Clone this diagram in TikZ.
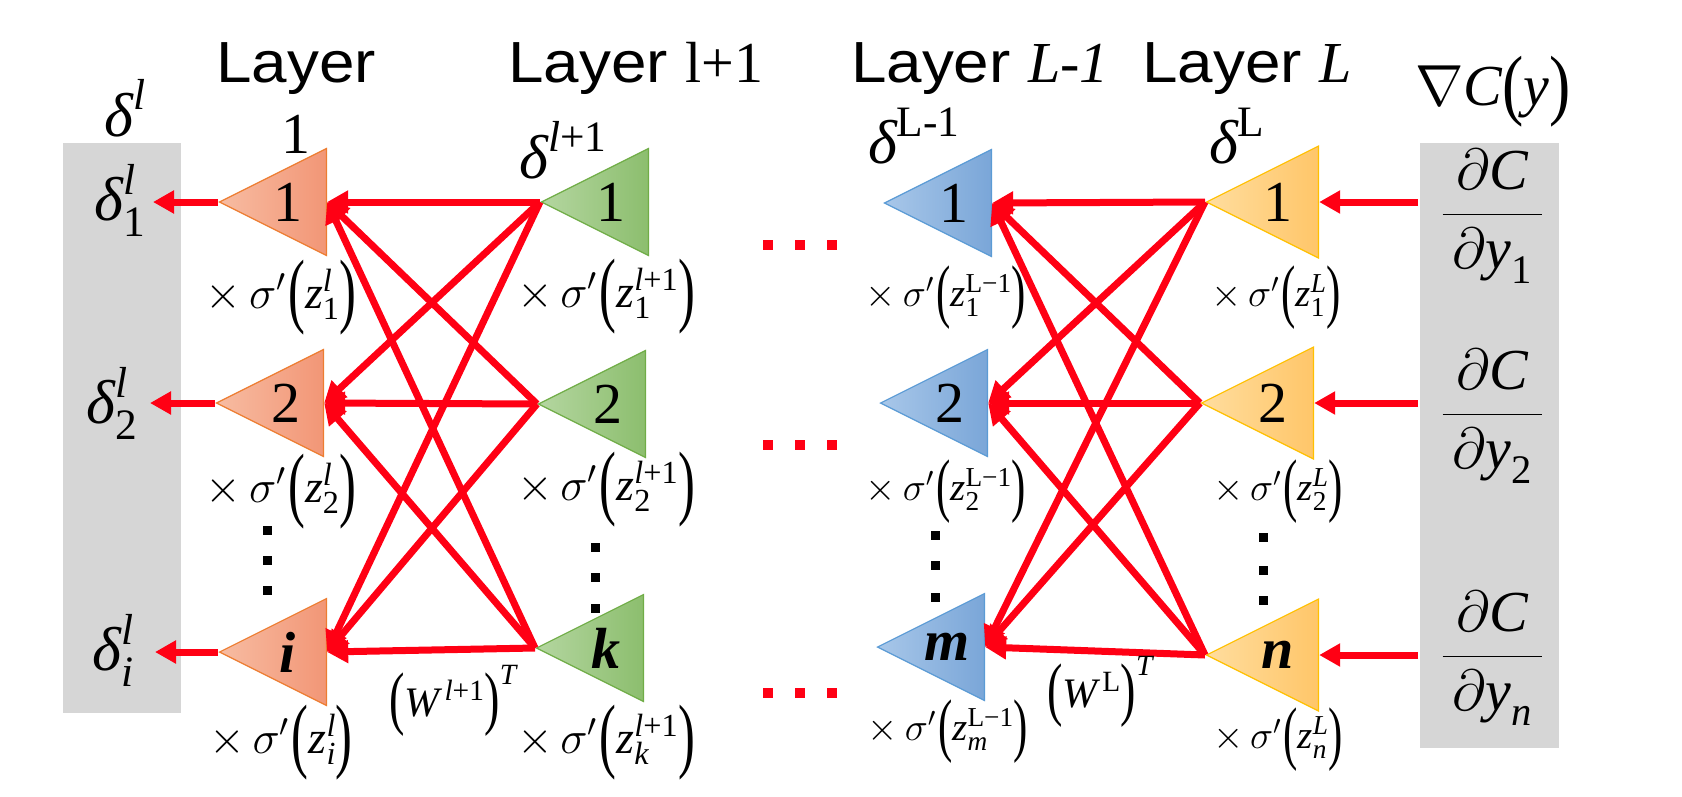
\documentclass[tikz,border=0pt]{standalone}
\usepackage{fix-cm}
\usepackage{amsmath}
\usepackage{graphicx}
\usepackage{fontspec}
\setmainfont{Liberation Serif}
\setsansfont{Liberation Sans}
\newfontfamily\hdrfont{Liberation Sans}[FakeStretch=1.1]
\usetikzlibrary{shapes.geometric,arrows.meta}
\definecolor{redO}{RGB}{255,0,20}
\definecolor{grayB}{RGB}{214,214,214}
\definecolor{oS}{RGB}{237,125,49}
\definecolor{oL}{RGB}{247,188,162}
\definecolor{oR}{RGB}{242,150,118}
\definecolor{gS}{RGB}{112,173,71}
\definecolor{gL}{RGB}{180,214,160}
\definecolor{gR}{RGB}{140,190,110}
\definecolor{bS}{RGB}{91,155,213}
\definecolor{bL}{RGB}{168,199,233}
\definecolor{bR}{RGB}{122,166,216}
\definecolor{yS}{RGB}{255,192,0}
\definecolor{yL}{RGB}{255,221,158}
\definecolor{yR}{RGB}{255,198,105}
\newcommand\ti[1]{\text{\itshape #1}}
\newcommand\tu[1]{\text{\upshape #1}}
\newcommand\fs[1]{\fontsize{#1}{#1}\selectfont}
\newcommand\LP[2]{\mathopen{\raisebox{#2}{\scalebox{1.1}[#1]{(}}}}
\newcommand\RP[2]{\mathclose{\raisebox{#2}{\scalebox{1.1}[#1]{)}}}}
\newcommand\xs[2]{$\times\mkern3mu\sigma'\mkern1mu\LP{1.8}{-0.215em}\ti{z}^{#1}_{#2}\RP{1.8}{-0.215em}$}
\begin{document}
\begin{tikzpicture}[x=1pt,y=-1pt,
  tri/.style={isosceles triangle, isosceles triangle stretches, shape border rotate=180,
    minimum width=107pt, minimum height=107pt, inner sep=0pt, anchor=apex, line width=1.2pt},
  otri/.style={tri, draw=oS, left color=oL, right color=oR},
  gtri/.style={tri, draw=gS, left color=gL, right color=gR},
  btri/.style={tri, draw=bS, left color=bL, right color=bR},
  ytri/.style={tri, draw=yS, left color=yL, right color=yR, minimum width=112pt, minimum height=112pt},
  conn/.style={draw=redO, line width=7pt, -{Triangle[length=21pt,width=22pt]}},
  numlab/.style={inner sep=0pt, font=\fs{58}},
  mlab/.style={inner sep=0pt, font=\fs{62}},
  slab/.style={inner sep=0pt, font=\fs{46}},
  sslab/.style={inner sep=0pt, font=\fs{39}},
  hdr/.style={inner sep=0pt, anchor=base, font=\hdrfont\fs{58}},
  bdot/.style={rectangle, fill=black, minimum size=9pt, inner sep=0pt},
  rdot/.style={rectangle, fill=redO, minimum size=10pt, inner sep=0pt},
]
\useasboundingbox (0,0) rectangle (1682,796);
% gray boxes
\fill[grayB] (63,143) rectangle (181,713);
\fill[grayB] (1420,143) rectangle (1559,748);
% triangles
\node[otri] (o1) at (218,202) {};
\node[otri] (o2) at (215,403) {};
\node[otri] (oi) at (218,652) {};
\node[gtri] (g1) at (540,202) {};
\node[gtri] (g2) at (537,404) {};
\node[gtri] (gk) at (535,648) {};
\node[btri] (b1) at (883,203) {};
\node[btri] (b2) at (879,403) {};
\node[btri] (bm) at (876,647) {};
\node[ytri] (y1) at (1205,202) {};
\node[ytri] (y2) at (1200,403) {};
\node[ytri] (yn) at (1205,655) {};
% connectors
\foreach \s in {g1,g2,gk}{\foreach \t in {o1,o2,oi}{\draw[conn] (\s.apex) -- (\t.lower side);}}
\foreach \s in {y1,y2,yn}{\foreach \t in {b1,b2,bm}{\draw[conn] (\s.apex) -- (\t.lower side);}}
\coordinate (d1) at (153,202);
\coordinate (d2) at (150,403);
\coordinate (di) at (155,652);
\draw[conn] (o1.apex) -- (d1);
\draw[conn] (o2.apex) -- (d2);
\draw[conn] (oi.apex) -- (di);
\coordinate (c1) at (1418,202);
\coordinate (c2) at (1418,403);
\coordinate (cn) at (1418,655);
\draw[conn] (c1) -- (y1.lower side);
\draw[conn] (c2) -- (y2.lower side);
\draw[conn] (cn) -- (yn.lower side);
% labels inside triangles
\node[numlab] (to1) at (288,202) {1};
\node[numlab] (to2) at (286,403) {2};
\node[numlab] (toi) at (288,652) {\bfseries\itshape i};
\node[numlab] (tg1) at (611,202) {1};
\node[numlab] (tg2) at (608,404) {2};
\node[numlab] (tgk) at (606,648) {\bfseries\itshape k};
\node[numlab] (tb1) at (954,203) {1};
\node[numlab] (tb2) at (950,403) {2};
\node[numlab] (tbm) at (947,647) {\bfseries\itshape m};
\node[numlab] (ty1) at (1278,202) {1};
\node[numlab] (ty2) at (1273,403) {2};
\node[numlab] (tyn) at (1278,655) {\bfseries\itshape n};
% headers
\node[hdr] (h1) at (296,82) {Layer};
\node[inner sep=0pt, anchor=base, font=\fs{58}] (h1b) at (296,153) {1};
\node[hdr] (h2) at (636,82) {Layer {\rmfamily l+1}};
\node[hdr] (h3) at (980,82) {Layer {\rmfamily\itshape L-1}};
\node[hdr] (h4) at (1247,82) {Layer {\rmfamily\itshape L}};
\node[inner sep=0pt, font=\fs{58}] (grad) at (1493,92) {$\nabla\ti{C}\LP{1.35}{-0.1em}\ti{y}\RP{1.35}{-0.1em}$};
% delta labels
\node[mlab] (dl) at (125,108) {$\ti{δ}^{\ti{l}}$};
\node[mlab] (dl1) at (120,200) {$\ti{δ}^{\ti{l}}_{\tu{1}}$};
\node[mlab] (dl2) at (112,403) {$\ti{δ}^{\ti{l}}_{\tu{2}}$};
\node[mlab] (dli) at (113,650) {$\ti{δ}^{\ti{l}}_{\ti{i}}$};
\node[mlab] (dlp) at (563,150) {$\ti{δ}^{\ti{l}\tu{+1}}$};
\node[mlab] (dLm) at (914,136) {$\ti{δ}^{\tu{L-1}}$};
\node[mlab] (dL) at (1237,136) {$\ti{δ}^{\tu{L}}$};
% sigma labels
\node[slab] (s11) at (281,298) {\xs{\ti{l}}{\tu{1}}};
\node[slab] (s12) at (281,492) {\xs{\ti{l}}{\tu{2}}};
\node[slab] (s1i) at (281,743) {\xs{\ti{l}}{\ti{i}}};
\node[slab] (s21) at (606,297) {\xs{\ti{l}\tu{+1}}{\tu{1}}};
\node[slab] (s22) at (606,490) {\xs{\ti{l}\tu{+1}}{\tu{2}}};
\node[slab] (s2k) at (606,743) {\xs{\ti{l}\tu{+1}}{\ti{k}}};
\node[sslab] (s31) at (946,298) {\xs{\tu{L−1}}{\tu{1}}};
\node[sslab] (s32) at (946,492) {\xs{\tu{L−1}}{\tu{2}}};
\node[sslab] (s3m) at (948,732) {\xs{\tu{L−1}}{\ti{m}}};
\node[sslab] (s41) at (1276,298) {\xs{\ti{L}}{\tu{1}}};
\node[sslab] (s42) at (1278,492) {\xs{\ti{L}}{\tu{2}}};
\node[sslab] (s4n) at (1278,740) {\xs{\ti{L}}{\ti{n}}};
% weight labels
\node[inner sep=0pt, font=\fs{42}] (w1) at (453,701) {$\LP{1.67}{-0.12em}\ti{W}^{\,\ti{l}\tu{+1}}\RP{1.67}{-0.12em}^{\ti{T}}$};
\node[inner sep=0pt, font=\fs{42}] (w2) at (1100,692) {$\LP{1.67}{-0.12em}\ti{W}^{\,\tu{L}}\RP{1.67}{-0.12em}^{\ti{T}}$};
% fractions
\node[inner sep=0pt, anchor=base, font=\fs{58}] (f1) at (1492,229) {$\dfrac{\,\partial\ti{C}\,}{\,\partial\ti{y}_{\tu{1}}\,}$};
\node[inner sep=0pt, anchor=base, font=\fs{58}] (f2) at (1492,429) {$\dfrac{\,\partial\ti{C}\,}{\,\partial\ti{y}_{\tu{2}}\,}$};
\node[inner sep=0pt, anchor=base, font=\fs{58}] (fn) at (1492,671) {$\dfrac{\,\partial\ti{C}\,}{\,\partial\ti{y}_{\ti{n}}\,}$};
% black dots
\foreach \y [count=\k] in {530,560,590}{\node[bdot] (da\k) at (267,\y) {};}
\foreach \y [count=\k] in {547,577,608}{\node[bdot] (db\k) at (595,\y) {};}
\foreach \y [count=\k] in {535,565,597}{\node[bdot] (dc\k) at (935,\y) {};}
\foreach \y [count=\k] in {537,570,600}{\node[bdot] (dd\k) at (1263,\y) {};}
% red dots
\foreach \y [count=\r] in {245,445,693}{\foreach \x [count=\k] in {768,800,832}{\node[rdot] (r\r\k) at (\x,\y) {};}}
\end{tikzpicture}
\end{document}
